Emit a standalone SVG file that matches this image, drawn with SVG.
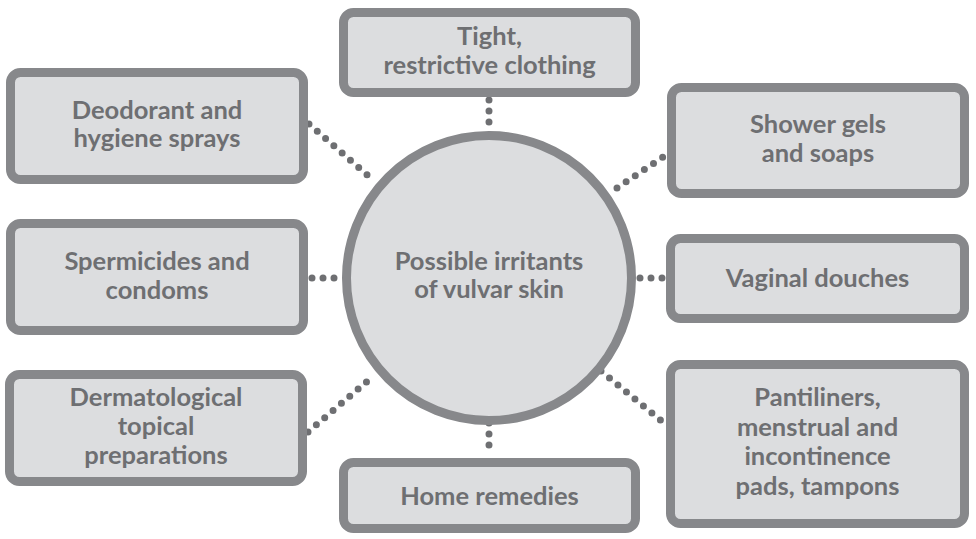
<svg xmlns="http://www.w3.org/2000/svg" width="976" height="539" viewBox="0 0 976 539">
<style>
.box{fill:#dcdddf;stroke:#87888b;stroke-width:9}
.hub{fill:#dcdddf;stroke:#87888b;stroke-width:9}
.lbl{font-family:Lato,"Liberation Sans",sans-serif;font-weight:700;font-size:25.5px;fill:#6e6f72;text-anchor:middle}
.con{stroke:#6e6f72;stroke-width:7;stroke-linecap:round;stroke-dasharray:0 11;fill:none}
</style>
<rect width="976" height="539" fill="#ffffff"/>
<g id="connectors">
<line class="con" x1="489" y1="100" x2="489" y2="124"/>
<line class="con" x1="489" y1="423" x2="489" y2="456"/>
<line class="con" x1="309" y1="124" x2="372" y2="179"/>
<line class="con" x1="312" y1="278" x2="338" y2="278"/>
<line class="con" x1="308" y1="432" x2="371" y2="378"/>
<line class="con" x1="617" y1="188" x2="666" y2="155"/>
<line class="con" x1="640" y1="278" x2="666" y2="278"/>
<line class="con" x1="601" y1="371" x2="664" y2="423"/>
</g>
<g id="hub">
<circle class="hub" cx="489" cy="278" r="142.5"/>
<text class="lbl" x="489" y="270">Possible irritants</text>
<text class="lbl" x="489" y="298">of vulvar skin</text>
</g>
<g id="tight">
<rect class="box" x="343.5" y="12.5" width="292" height="80" rx="10"/>
<text class="lbl" x="489.5" y="45">Tight,</text>
<text class="lbl" x="489.5" y="74">restrictive clothing</text>
</g>
<g id="deodorant">
<rect class="box" x="10.5" y="72.5" width="293" height="107" rx="10"/>
<text class="lbl" x="157" y="119">Deodorant and</text>
<text class="lbl" x="157" y="147">hygiene sprays</text>
</g>
<g id="spermicides">
<rect class="box" x="10.5" y="223.5" width="293" height="107" rx="10"/>
<text class="lbl" x="157" y="270">Spermicides and</text>
<text class="lbl" x="157" y="299">condoms</text>
</g>
<g id="dermatological">
<rect class="box" x="9.5" y="374.5" width="293" height="107" rx="10"/>
<text class="lbl" x="156" y="406">Dermatological</text>
<text class="lbl" x="156" y="435">topical</text>
<text class="lbl" x="156" y="464">preparations</text>
</g>
<g id="shower">
<rect class="box" x="671.5" y="87.5" width="293" height="106" rx="10"/>
<text class="lbl" x="818" y="133">Shower gels</text>
<text class="lbl" x="818" y="162">and soaps</text>
</g>
<g id="vaginal">
<rect class="box" x="670.5" y="238.5" width="294" height="80" rx="10"/>
<text class="lbl" x="817.5" y="287">Vaginal douches</text>
</g>
<g id="pantiliners">
<rect class="box" x="670.5" y="364.5" width="294" height="159" rx="10"/>
<text class="lbl" x="817.5" y="406">Pantiliners,</text>
<text class="lbl" x="817.5" y="436">menstrual and</text>
<text class="lbl" x="817.5" y="465">incontinence</text>
<text class="lbl" x="817.5" y="495">pads, tampons</text>
</g>
<g id="home">
<rect class="box" x="343.5" y="462.5" width="292" height="66" rx="10"/>
<text class="lbl" x="489.5" y="505">Home remedies</text>
</g>
</svg>
